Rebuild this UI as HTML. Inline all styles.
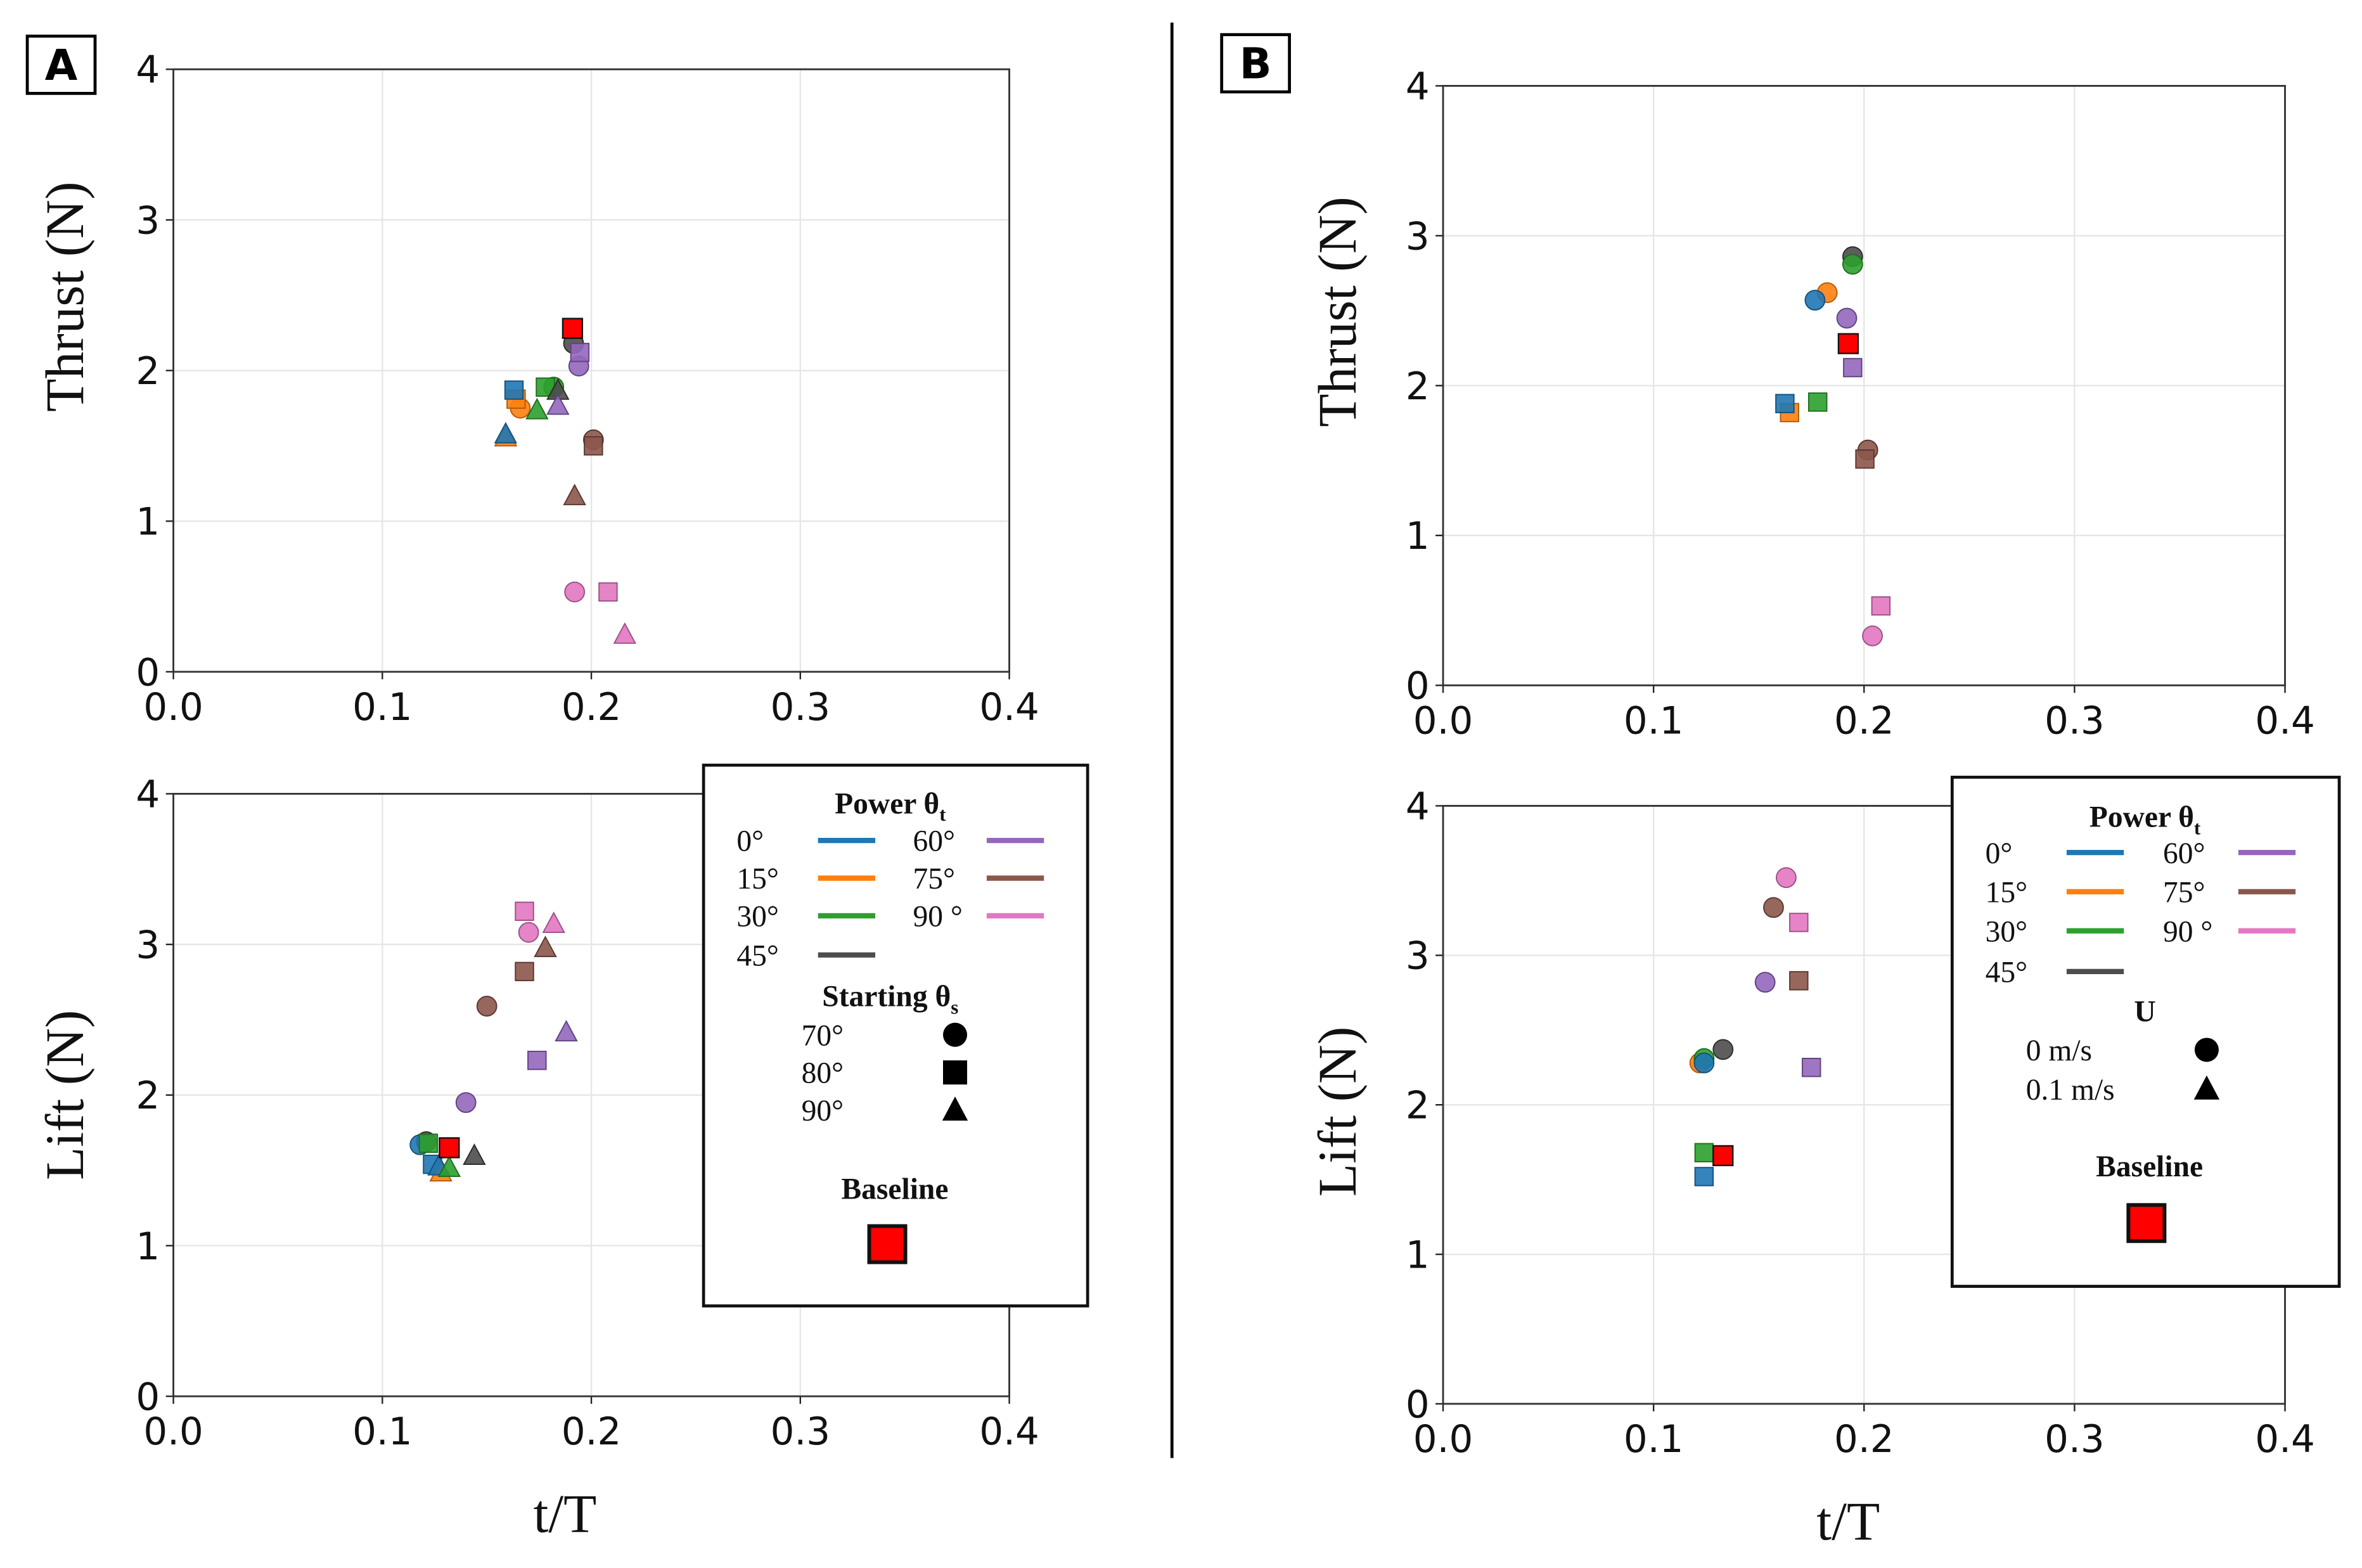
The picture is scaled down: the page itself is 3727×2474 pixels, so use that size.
<!DOCTYPE html>
<html><head><meta charset="utf-8"><style>
html,body{margin:0;padding:0;background:#fff;}
svg{display:block;}
.tick{font-family:"DejaVu Sans","Liberation Sans",sans-serif;font-size:25px;fill:#111;}
.axl{font-family:"Liberation Serif",serif;font-size:36px;fill:#111;}
.lg{font-family:"Liberation Serif",serif;font-size:20px;fill:#111;}
.lgb{font-family:"Liberation Serif",serif;font-size:20px;font-weight:bold;fill:#111;}
</style></head><body>
<svg id="fig" width="3727" height="2474" viewBox="0 0 1568 1041" xmlns="http://www.w3.org/2000/svg">
<g id="static">
  <line x1="778" y1="15" x2="778" y2="968" stroke="#000" stroke-width="2"/>
  <rect x="18" y="24" width="45" height="38" fill="#fff" stroke="#000" stroke-width="2"/>
  <text x="40.5" y="53" text-anchor="middle" style="font-family:'DejaVu Sans','Liberation Sans',sans-serif;font-weight:bold;font-size:28px">A</text>
  <rect x="811" y="23" width="45" height="38" fill="#fff" stroke="#000" stroke-width="2"/>
  <text x="833.5" y="52" text-anchor="middle" style="font-family:'DejaVu Sans','Liberation Sans',sans-serif;font-weight:bold;font-size:28px">B</text>
  <text class="axl" x="375" y="1017" text-anchor="middle">t/T</text>
  <text class="axl" x="1227" y="1022" text-anchor="middle">t/T</text>
</g>
<g id="plots"></g>
<g id="legends"></g>
</svg>
<script>
// ---- data ----
const powerLabels = ["0°","15°","30°","45°","60°","75°","90 °"];
const powerColors = ["#1f77b4","#ff7f0e","#2ca02c","#4d4d4d","#9467bd","#8c564b","#e377c2"];
const edgeColors  = ["#14507c","#b05a0a","#1d6e1d","#2a2a2a","#5f4280","#5a3630","#9b4f85"];
const xTicks = [0.0,0.1,0.2,0.3,0.4];
const xTickLabels = ["0.0","0.1","0.2","0.3","0.4"];
const yTicks = [0,1,2,3,4];
const yTickLabels = ["0","1","2","3","4"];

// Panel A thrust (power index: 0..6, shape: c=circle s=square t=triangle, b=baseline)
const aThrustT     = [0.1915,0.194,0.1945,0.166,0.164,0.163,0.182,0.178,0.184,0.184,0.174,0.159,0.159,0.201,0.201,0.192,0.192,0.208,0.216,0.191];
const aThrustF     = [2.18,2.03,2.12,1.75,1.81,1.87,1.89,1.89,1.86,1.76,1.73,1.55,1.57,1.54,1.50,1.16,0.53,0.53,0.24,2.28];
const aThrustPower = [3,4,4,1,1,0,2,2,3,4,2,1,0,5,5,5,6,6,6,-1];
const aThrustShape = ["c","c","s","c","s","s","c","s","t","t","t","t","t","c","s","t","c","s","t","b"];

// Panel A lift
const aLiftT     = [0.168,0.182,0.170,0.178,0.168,0.150,0.188,0.174,0.140,0.121,0.118,0.122,0.124,0.128,0.127,0.132,0.144,0.132];
const aLiftF     = [3.22,3.13,3.08,2.97,2.82,2.59,2.41,2.23,1.95,1.69,1.67,1.68,1.54,1.48,1.52,1.51,1.59,1.65];
const aLiftPower = [6,6,6,5,5,5,4,4,4,3,0,2,0,1,0,2,3,-1];
const aLiftShape = ["s","t","c","t","s","c","t","s","c","c","c","s","s","t","t","t","t","b"];

// Panel B thrust
const bThrustT     = [0.1946,0.1946,0.1825,0.1767,0.1918,0.1946,0.1646,0.1624,0.178,0.2018,0.2004,0.208,0.204,0.1925];
const bThrustF     = [2.86,2.81,2.62,2.57,2.45,2.12,1.82,1.88,1.89,1.57,1.51,0.53,0.33,2.28];
const bThrustPower = [3,2,1,0,4,4,1,0,2,5,5,6,6,-1];
const bThrustShape = ["c","c","c","c","c","s","s","s","s","c","s","s","c","b"];

// Panel B lift
const bLiftT     = [0.163,0.157,0.169,0.153,0.169,0.133,0.122,0.124,0.124,0.175,0.124,0.124,0.133];
const bLiftF     = [3.52,3.32,3.22,2.82,2.83,2.37,2.28,2.31,2.28,2.25,1.68,1.52,1.66];
const bLiftPower = [6,5,6,4,5,3,1,2,0,4,2,0,-1];
const bLiftShape = ["c","c","s","c","s","c","c","c","c","s","s","s","b"];

// ---- drawing ----
const NS="http://www.w3.org/2000/svg";
const plots=document.getElementById('plots');
const legends=document.getElementById('legends');
function mk(tag,attrs,parent){const e=document.createElementNS(NS,tag);for(const k in attrs)e.setAttribute(k,attrs[k]);parent.appendChild(e);return e;}

function panel(name,box,ylabel,ylx,yly,T,F,P,S){
  const g=mk('g',{},plots);
  
  
  const sx=v=>box.x0+(v-0)/(0.4-0)*(box.x1-box.x0);
  const sy=v=>box.y0-(v-0)/(4-0)*(box.y0-box.y1);
  xTicks.forEach((t,i)=>{
    const l=mk('line',{x1:sx(t),x2:sx(t),y1:box.y1,y2:box.y0,stroke:'#e6e6e6','stroke-width':1},g);
    
    
    const tk=mk('line',{x1:sx(t),x2:sx(t),y1:box.y0,y2:box.y0+5,stroke:'#222','stroke-width':1},g);
    
    
    const tx=mk('text',{x:sx(t),y:box.y0+32,'text-anchor':'middle',class:'tick'},g);
    tx.textContent=xTickLabels[i];
    
    
  });
  yTicks.forEach((t,i)=>{
    const l=mk('line',{x1:box.x0,x2:box.x1,y1:sy(t),y2:sy(t),stroke:'#e6e6e6','stroke-width':1},g);
    
    
    const tk=mk('line',{x1:box.x0-5,x2:box.x0,y1:sy(t),y2:sy(t),stroke:'#222','stroke-width':1},g);
    
    
    const tx=mk('text',{x:box.x0-9,y:sy(t)+9,'text-anchor':'end',class:'tick'},g);
    tx.textContent=yTickLabels[i];
    
    
  });
  const fr=mk('rect',{x:box.x0,y:box.y1,width:box.x1-box.x0,height:box.y0-box.y1,fill:'none',stroke:'#333','stroke-width':1.2},g);
  
  
  const yl=mk('text',{x:0,y:0,'text-anchor':'middle',class:'axl',transform:`translate(${ylx},${yly}) rotate(-90)`},g);
  yl.textContent=ylabel;
  
  
  T.forEach((t,i)=>{
    const cx=sx(t),cy=sy(F[i]);
    const base=P[i]<0;
    const fill=base?'#ff0000':powerColors[P[i]];
    const st=base?'#111':edgeColors[P[i]];
    let m;
    if(S[i]==='c') m=mk('ellipse',{cx:cx,cy:cy,rx:6.5,ry:6.5,fill:fill,stroke:st,'stroke-width':0.8,'fill-opacity':0.9},g);
    else if(S[i]==='s') m=mk('rect',{x:cx-6,y:cy-6,width:12,height:12,fill:fill,stroke:st,'stroke-width':0.8,'fill-opacity':0.9},g);
    else if(S[i]==='t') m=mk('polygon',{points:`${cx},${cy-8} ${cx-7},${cy+5} ${cx+7},${cy+5}`,fill:fill,stroke:st,'stroke-width':0.8,'fill-opacity':0.9},g);
    else m=mk('rect',{x:cx-6.5,y:cy-6.5,width:13,height:13,fill:fill,stroke:st,'stroke-width':1},g);
    
    
  });
}
panel('panel-a-thrust',{x0:115,x1:670,y0:446,y1:46},'Thrust (N)',55,197,aThrustT,aThrustF,aThrustPower,aThrustShape);
panel('panel-a-lift',{x0:115,x1:670,y0:927,y1:527},'Lift (N)',55,727,aLiftT,aLiftF,aLiftPower,aLiftShape);
panel('panel-b-thrust',{x0:958,x1:1517,y0:455,y1:57},'Thrust (N)',900,207,bThrustT,bThrustF,bThrustPower,bThrustShape);
panel('panel-b-lift',{x0:958,x1:1517,y0:932,y1:535},'Lift (N)',900,738,bLiftT,bLiftF,bLiftPower,bLiftShape);

function legend(name,L){
  const g=mk('g',{},legends);
  
  
  const r=mk('rect',{x:L.x,y:L.y,width:L.w,height:L.h,fill:'#fff',stroke:'#111','stroke-width':2},g);
  
  
  const t=mk('text',{x:L.cx,y:L.titleY,'text-anchor':'middle',class:'lgb'},g);
  t.innerHTML='Power θ<tspan font-size="13" dy="5">t</tspan>';
  
  
  powerLabels.forEach((lab,i)=>{
    const col=i<4?0:1, row=i<4?i:i-4;
    const y=L.rowY[row];
    const tx=mk('text',{x:L.labX[col],y:y+7,class:'lg'},g);
    tx.textContent=lab;
    
    
    const ln=mk('line',{x1:L.lineX[col],x2:L.lineX[col]+38,y1:y,y2:y,stroke:powerColors[i],'stroke-width':3.5},g);
    
    
  });
  const t2=mk('text',{x:L.cx,y:L.sub.y,'text-anchor':'middle',class:'lgb'},g);
  t2.innerHTML=L.sub.title;
  
  
  L.sub.items.forEach((it,i)=>{
    const y=L.sub.rows[i];
    const tx=mk('text',{x:L.sub.labX,y:y+7,class:'lg'},g);
    tx.textContent=it[0];
    
    
    const mx=L.sub.mX;let m;
    if(it[1]==='c') m=mk('circle',{cx:mx,cy:y,r:8,fill:'#000'},g);
    else if(it[1]==='s') m=mk('rect',{x:mx-8,y:y-8,width:16,height:16,fill:'#000'},g);
    else m=mk('polygon',{points:`${mx},${y-9} ${mx-8.5},${y+7} ${mx+8.5},${y+7}`,fill:'#000'},g);
    
    
  });
  const bt=mk('text',{x:L.cx+3,y:L.baseY,'text-anchor':'middle',class:'lgb'},g);
  bt.textContent='Baseline';
  
  
  const bs=mk('rect',{x:L.baseMX-12,y:L.baseMY-12,width:24,height:24,fill:'#ff0000',stroke:'#111','stroke-width':2.5},g);
  
  
}
legend('legend-a',{x:467,y:508,w:255,h:359,cx:591,titleY:540,rowY:[558,583,608,634],labX:[489,606],lineX:[543,655],
  sub:{title:'Starting θ<tspan font-size="13" dy="5">s</tspan>',y:668,rows:[687,712,737],labX:532,mX:634,items:[['70°','c'],['80°','s'],['90°','t']]},
  baseY:796,baseMX:589,baseMY:826});
legend('legend-b',{x:1296,y:516,w:257,h:338,cx:1424,titleY:549,rowY:[566,592,618,645],labX:[1318,1436],lineX:[1372,1486],
  sub:{title:'U',y:678,rows:[697,723],labX:1345,mX:1465,items:[['0 m/s','c'],['0.1 m/s','t']]},
  baseY:781,baseMX:1425,baseMY:812});
</script>
</body></html>
